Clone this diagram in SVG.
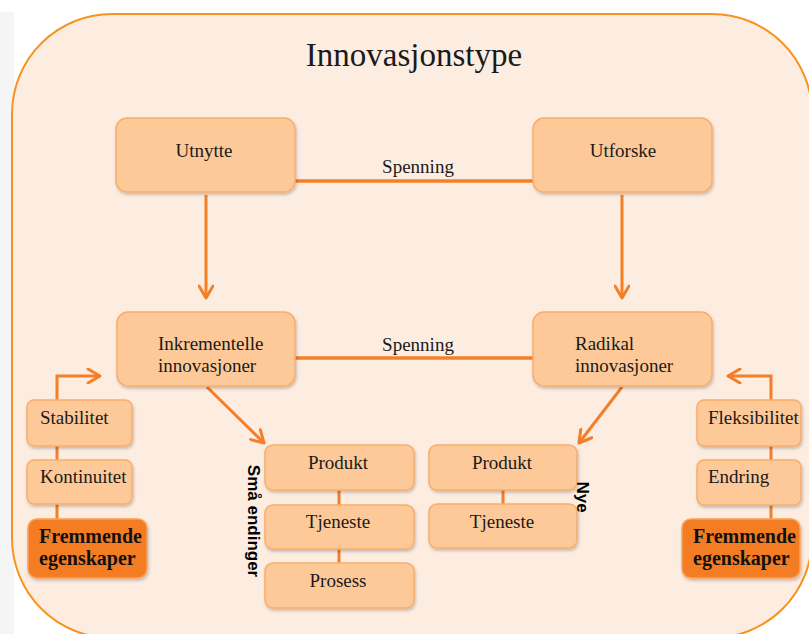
<svg xmlns="http://www.w3.org/2000/svg" width="809" height="634" viewBox="0 0 809 634">
<defs>
<filter id="sh" x="-10%" y="-10%" width="125%" height="135%">
<feDropShadow dx="1" dy="2" stdDeviation="1.5" flood-color="#000" flood-opacity="0.22"/>
</filter>
<marker id="ah" viewBox="0 0 16 16" refX="14" refY="8" markerWidth="16" markerHeight="16" markerUnits="userSpaceOnUse" orient="auto">
<path d="M2,1 L14,8 L2,15" fill="none" stroke="#f47f28" stroke-width="3" stroke-linecap="round" stroke-linejoin="round"/>
</marker>
<style>
.box{fill:#fdc998;stroke:#f9ad6a;stroke-width:1.5;filter:url(#sh)}
.dark{fill:#f47b20;stroke:#f9a35a;stroke-width:1.5;filter:url(#sh)}
text.t{font-family:'Liberation Serif','DejaVu Serif',serif;font-size:19px;fill:#1a1a1a}
text.c{text-anchor:middle}
text.b{font-weight:bold;fill:#111;font-size:20px}
text.v{font-family:'Liberation Sans','DejaVu Sans',sans-serif;font-weight:bold;font-size:17px;fill:#000;text-anchor:middle}
.ln{stroke:#f47f28;stroke-width:3.5;fill:none}
.ar{stroke:#f47f28;stroke-width:3;fill:none;marker-end:url(#ah)}
.sm{stroke:#f47f28;stroke-width:3;fill:none}
</style>
</defs>
<rect x="0" y="0" width="809" height="634" fill="#ffffff"/>
<rect x="0" y="12" width="14" height="622" fill="#f5f5f5"/>
<rect id="frame" x="12" y="14" width="800" height="624" rx="100" ry="100" fill="#fdede1" stroke="#f7931e" stroke-width="2"/>
<text id="title" x="414" y="66" class="t c" style="font-size:33px">Innovasjonstype</text>

<g id="connectors">
<line class="ln" x1="295" y1="181" x2="533" y2="181"/>
<line class="ln" x1="295" y1="358" x2="533" y2="358"/>
<line class="ar" x1="206" y1="195" x2="206" y2="298"/>
<line class="ar" x1="622" y1="195" x2="622" y2="298"/>
<line class="ar" x1="207" y1="387" x2="264" y2="443"/>
<line class="ar" x1="622" y1="387" x2="579" y2="443"/>
<polyline class="ar" points="57,400 57,376 100,376"/>
<polyline class="ar" points="771,400 771,376 728,376"/>
<line class="sm" x1="57" y1="446" x2="57" y2="460"/>
<line class="sm" x1="57" y1="504" x2="57" y2="519"/>
<line class="sm" x1="771" y1="446" x2="771" y2="460"/>
<line class="sm" x1="771" y1="505" x2="771" y2="519"/>
<line class="sm" x1="339" y1="490" x2="339" y2="505"/>
<line class="sm" x1="339" y1="549" x2="339" y2="563"/>
<line class="sm" x1="503" y1="490" x2="503" y2="504"/>
<text x="418" y="173" class="t c">Spenning</text>
<text x="418" y="351" class="t c">Spenning</text>
</g>

<g id="utnytte"><rect class="box" x="116" y="118" width="179" height="74" rx="11"/><text x="204" y="157" class="t c">Utnytte</text></g>
<g id="utforske"><rect class="box" x="533" y="118" width="179" height="74" rx="11"/><text x="623" y="157" class="t c">Utforske</text></g>
<g id="inkrementelle"><rect class="box" x="117" y="312" width="178" height="74" rx="11"/><text x="158" y="350" class="t">Inkrementelle</text><text x="158" y="372" class="t">innovasjoner</text></g>
<g id="radikal"><rect class="box" x="533" y="312" width="179" height="74" rx="11"/><text x="575" y="350" class="t">Radikal</text><text x="575" y="372" class="t">innovasjoner</text></g>

<g id="stabilitet"><rect class="box" x="27" y="400" width="105" height="46" rx="7"/><text x="40" y="424" class="t">Stabilitet</text></g>
<g id="kontinuitet"><rect class="box" x="27" y="460" width="105" height="44" rx="7"/><text x="40" y="483" class="t">Kontinuitet</text></g>
<g id="fremmende-venstre"><rect class="dark" x="28" y="519" width="119" height="59" rx="9"/><text x="39" y="543" class="t b">Fremmende</text><text x="39" y="565" class="t b">egenskaper</text></g>

<g id="fleksibilitet"><rect class="box" x="697" y="400" width="104" height="46" rx="7"/><text x="708" y="424" class="t">Fleksibilitet</text></g>
<g id="endring"><rect class="box" x="697" y="460" width="104" height="45" rx="7"/><text x="708" y="483" class="t">Endring</text></g>
<g id="fremmende-hoyre"><rect class="dark" x="682" y="519" width="118" height="59" rx="9"/><text x="693" y="543" class="t b">Fremmende</text><text x="693" y="565" class="t b">egenskaper</text></g>

<g id="produkt-sma"><rect class="box" x="265" y="445" width="149" height="45" rx="8"/><text x="338" y="469" class="t c">Produkt</text></g>
<g id="tjeneste-sma"><rect class="box" x="265" y="505" width="149" height="44" rx="8"/><text x="338" y="528" class="t c">Tjeneste</text></g>
<g id="prosess-sma"><rect class="box" x="265" y="563" width="149" height="45" rx="8"/><text x="338" y="587" class="t c">Prosess</text></g>
<g id="label-sma"><text class="v" transform="translate(248,521) rotate(90)">Små endinger</text></g>

<g id="produkt-nye"><rect class="box" x="429" y="445" width="148" height="45" rx="8"/><text x="502" y="469" class="t c">Produkt</text></g>
<g id="tjeneste-nye"><rect class="box" x="429" y="504" width="148" height="44" rx="8"/><text x="502" y="528" class="t c">Tjeneste</text></g>
<g id="label-nye"><text class="v" transform="translate(577,497) rotate(90)">Nye</text></g>
</svg>
